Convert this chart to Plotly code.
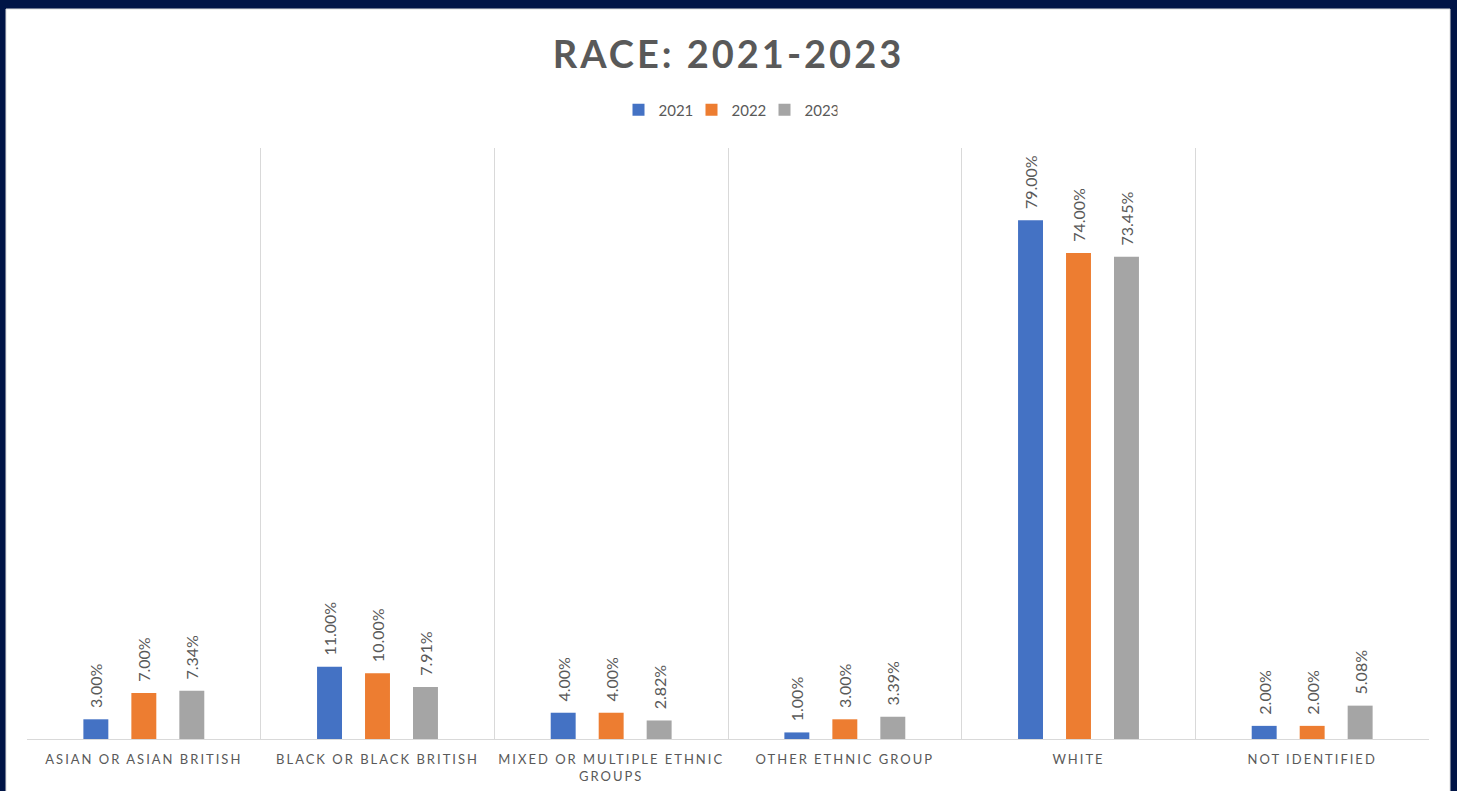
import plotly.graph_objects as go

categories = ["ASIAN OR ASIAN BRITISH", "BLACK OR BLACK BRITISH", "MIXED OR MULTIPLE ETHNIC<br>GROUPS",
              "OTHER ETHNIC GROUP", "WHITE", "NOT IDENTIFIED"]
years = ["2021", "2022", "2023"]
values_2021 = [3.00, 11.00, 4.00, 1.00, 79.00, 2.00]
values_2022 = [7.00, 10.00, 4.00, 3.00, 74.00, 2.00]
values_2023 = [7.34, 7.91, 2.82, 3.39, 73.45, 5.08]
colors = ["#4472C4", "#ED7D31", "#A5A5A5"]

FONT = "Lato, 'Open Sans', sans-serif"
TXT = "#595959"

fig = go.Figure()
for name, vals, col in zip(years, [values_2021, values_2022, values_2023], colors):
    fig.add_trace(go.Bar(
        x=categories, y=vals, name=name, marker_color=col, marker_line_width=0,
        text=["\u00a0\u00a0" + f"{v:.2f}%" for v in vals], textposition="outside", textangle=-90,
        textfont=dict(family=FONT, size=16, color=TXT), cliponaxis=False,
        constraintext="none",
    ))

W, H = 1457, 791
ml, mr, mt, mb = 27, 28, 148, 52
pw, ph = W - ml - mr, H - mt - mb

fig.update_layout(
    width=W, height=H,
    margin=dict(l=ml, r=mr, t=mt, b=mb, autoexpand=False),
    paper_bgcolor="#001446", plot_bgcolor="white",
    barmode="group", bargap=0.384, bargroupgap=0.48,
    font=dict(family=FONT, color=TXT),
    title=dict(text="<b>RACE: 2021-2023</b>", x=0.5, xanchor="center", y=1 - 55 / H, yanchor="middle",
               yref="container", font=dict(family=FONT, size=38, color=TXT)),
    legend=dict(orientation="h", x=0.5, xanchor="center", y=(H - mb - 110) / ph, yanchor="middle",
                font=dict(family=FONT, size=15, color=TXT), bgcolor="rgba(0,0,0,0)",
                itemwidth=30, entrywidth=28, entrywidthmode="pixels", traceorder="normal"),
    showlegend=True,
    shapes=[dict(type="rect", xref="paper", yref="paper", layer="below",
                 x0=(6 - ml) / pw, x1=(1450 - ml) / pw, y0=(H - mb - 800) / ph, y1=(H - mb - 9) / ph,
                 fillcolor="white", line=dict(color="#dddddd", width=1))],
)
fig.update_xaxes(showgrid=True, gridcolor="#d9d9d9", gridwidth=1, tickson="boundaries",
                 showline=True, linecolor="#d9d9d9", mirror=False, ticks="", ticklabelstandoff=8,
                 automargin=False,
                 tickfont=dict(family=FONT, size=13, color=TXT), tickangle=0)
fig.update_yaxes(range=[0, 90], showgrid=False, showticklabels=False, zeroline=False, showline=False,
                 automargin=False)

post = """
document.querySelectorAll('.xtick text').forEach(function(t){t.style.letterSpacing='2px';});
document.querySelectorAll('.gtitle').forEach(function(t){t.style.letterSpacing='3px';});
"""
fig.write_html("out.html", post_script=post)
